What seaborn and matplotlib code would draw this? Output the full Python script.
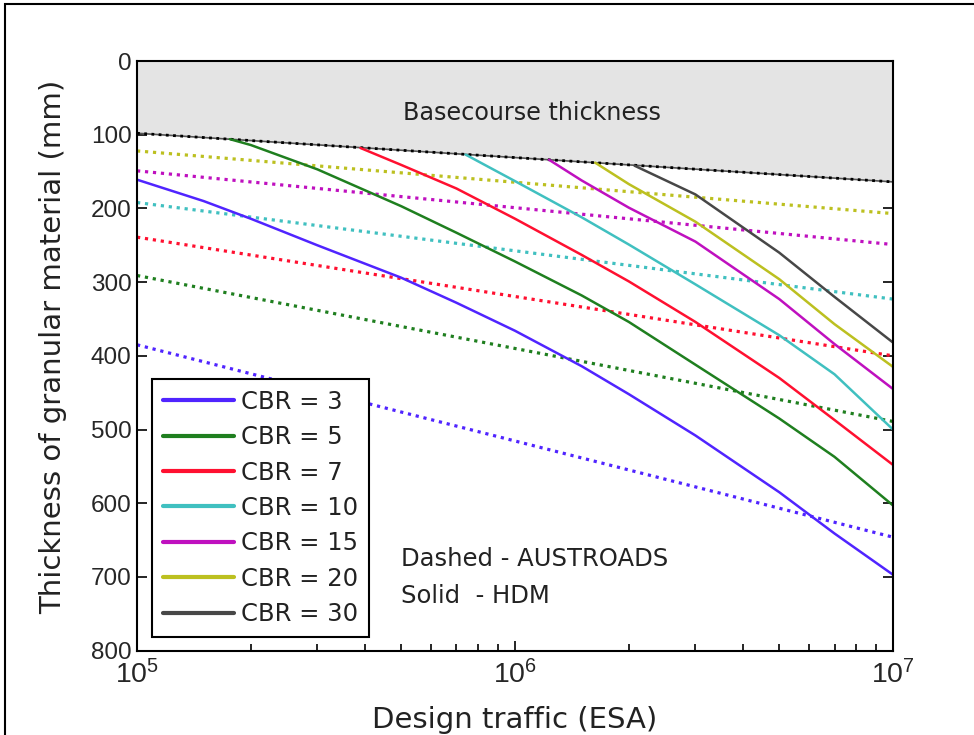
import numpy as np
import pandas as pd
import matplotlib
matplotlib.use("Agg")
import matplotlib.pyplot as plt
import matplotlib.patches as mpatches
from matplotlib.lines import Line2D
from matplotlib.ticker import LogLocator, FixedLocator, NullFormatter
import seaborn as sns

# ---------------- data ----------------
cbr_labels = ["CBR = 3", "CBR = 5", "CBR = 7", "CBR = 10", "CBR = 15", "CBR = 20", "CBR = 30"]
colors = ["#5024FF", "#1F7F1F", "#FF1030", "#40C0C0", "#BF10BF", "#BCC020", "#474747"]

# HDM (solid) curves: design traffic (ESA) and thickness (mm)
hdm_x_3 = [1e5, 1.5e5, 2e5, 3e5, 5e5, 7e5, 1e6, 1.5e6, 2e6, 3e6, 5e6, 7e6, 1e7]
hdm_y_3 = [161, 190, 214, 250, 294, 328, 366, 414, 452, 508, 585, 641, 697]
hdm_x_5 = [1.76e5, 2e5, 3e5, 5e5, 7e5, 1e6, 1.5e6, 2e6, 3e6, 5e6, 7e6, 1e7]
hdm_y_5 = [106, 114, 147, 197, 233, 272, 318, 354, 412, 485, 537, 603]
hdm_x_7 = [3.9e5, 5e5, 7e5, 1e6, 1.5e6, 2e6, 3e6, 5e6, 7e6, 1e7]
hdm_y_7 = [118, 141, 173, 214, 263, 299, 354, 430, 487, 548]
hdm_x_10 = [7.4e5, 1e6, 1.5e6, 2e6, 3e6, 5e6, 7e6, 1e7]
hdm_y_10 = [127, 163, 212, 249, 303, 372, 425, 500]
hdm_x_15 = [1.23e6, 1.5e6, 2e6, 3e6, 5e6, 7e6, 1e7]
hdm_y_15 = [134, 162, 199, 245, 323, 384, 445]
hdm_x_20 = [1.63e6, 2e6, 3e6, 5e6, 7e6, 1e7]
hdm_y_20 = [138, 167, 218, 296, 357, 415]
hdm_x_30 = [2.07e6, 3e6, 5e6, 7e6, 1e7]
hdm_y_30 = [142, 181, 260, 320, 382]

# AUSTROADS (dotted) lines
aus_x = [1e5, 1e7]
aus_y_3 = [385, 646]
aus_y_5 = [291, 489]
aus_y_7 = [239, 400]
aus_y_10 = [192, 323]
aus_y_15 = [149, 249]
aus_y_20 = [122, 207]

# Basecourse thickness boundary
base_x = [1e5, 1e6, 1e7]
base_y = [98, 131, 164]

xticks = [1e5, 1e6, 1e7]
yticks = [0, 100, 200, 300, 400, 500, 600, 700, 800]

# ---------------- style ----------------
sns.set_theme(style="white")
plt.rcParams["font.family"] = ["DejaVu Sans"]
plt.rcParams["mathtext.fontset"] = "custom"
plt.rcParams["mathtext.rm"] = "Liberation Sans"
plt.rcParams["mathtext.it"] = "Liberation Sans"

fig = plt.figure(figsize=(9.74, 7.35), dpi=100)
fig.patch.set_facecolor("white")
ax = fig.add_axes([0.1407, 0.1147, 0.7762, 0.8023])
ax.set_facecolor("white")

# basecourse shaded region
ax.fill_between(np.array(base_x), 0, base_y, color="#E4E4E4", zorder=1, lw=0)
sns.lineplot(x=base_x, y=base_y, ax=ax, color="#555555", lw=1.2, zorder=3,
             estimator=None, sort=False, legend=False)
sns.lineplot(x=base_x, y=base_y, ax=ax, color="black", lw=2.0, zorder=3,
             linestyle=(0, (1, 1.6)), estimator=None, sort=False, legend=False)

aus_series = [aus_y_3, aus_y_5, aus_y_7, aus_y_10, aus_y_15, aus_y_20]
for ys, c in zip(aus_series, colors):
    sns.lineplot(x=aus_x, y=ys, ax=ax, color=c, lw=2.3, linestyle=(0, (1, 1.5)),
                 estimator=None, sort=False, legend=False, zorder=2)

hdm_series = [(hdm_x_3, hdm_y_3), (hdm_x_5, hdm_y_5), (hdm_x_7, hdm_y_7),
              (hdm_x_10, hdm_y_10), (hdm_x_15, hdm_y_15), (hdm_x_20, hdm_y_20),
              (hdm_x_30, hdm_y_30)]
for (xs, ys), c in zip(hdm_series, colors):
    sns.lineplot(x=xs, y=ys, ax=ax, color=c, lw=1.8, estimator=None, sort=False,
                 legend=False, zorder=4)

ax.set_xscale("log")
ax.set_xlim(1e5, 1e7)
ax.set_ylim(800, 0)
ax.xaxis.set_major_locator(FixedLocator(xticks))
ax.xaxis.set_minor_locator(LogLocator(base=10, subs=np.arange(2, 10)))
ax.xaxis.set_minor_formatter(NullFormatter())
ax.set_xticks(xticks)
ax.set_xticklabels([r"$10^{5}$", r"$10^{6}$", r"$10^{7}$"])
ax.set_yticks(yticks)
ax.set_yticklabels([str(v) for v in yticks])

for lab in ax.get_yticklabels():
    lab.set_fontfamily("Liberation Sans")
    lab.set_fontsize(17.5)
for lab in ax.get_xticklabels():
    lab.set_fontsize(20.5)

ax.tick_params(which="both", direction="in", top=True, right=True, bottom=True, left=True,
               color="black", width=1.2)
ax.tick_params(which="major", length=7, pad=4)
ax.tick_params(which="minor", length=5)
ax.tick_params(axis="x", which="major", pad=7)
for s in ax.spines.values():
    s.set_color("black")
    s.set_linewidth(1.5)
    s.set_zorder(6)

ax.set_xlabel("Design traffic (ESA)", fontsize=21, color="#222222")
ax.set_ylabel("Thickness of granular material (mm)", fontsize=21, color="#222222")
ax.xaxis.set_label_coords(0.5, -0.093)
ax.yaxis.set_label_coords(-0.092, 0.515)

ax.text(1.11e6, 71, "Basecourse thickness", fontsize=17.2, ha="center", va="center",
        color="#222222", zorder=5)
ax.text(0.349, 0.1555, "Dashed - AUSTROADS", transform=ax.transAxes, fontsize=17.5,
        ha="left", va="center", color="#222222")
ax.text(0.349, 0.0928, "Solid  - HDM", transform=ax.transAxes, fontsize=17.5,
        ha="left", va="center", color="#222222")

handles = [Line2D([0], [0], color=c, lw=3) for c in colors]
leg = ax.legend(handles, cbr_labels, loc="lower left", bbox_to_anchor=(0.02, 0.023),
                borderaxespad=0, fontsize=17.5, frameon=True, fancybox=False,
                handlelength=2.9, handletextpad=0.3, labelspacing=0.47,
                borderpad=0.45, framealpha=1)
leg.get_frame().set_edgecolor("black")
leg.get_frame().set_linewidth(1.5)
leg.set_zorder(7)
for t in leg.get_texts():
    t.set_color("#222222")

# outer figure frame (top and left visible)
frame = mpatches.Rectangle((5 / 974, -0.05), 1.1, 1.05 - 4 / 735, transform=fig.transFigure,
                           fill=False, edgecolor="black", lw=1.5, clip_on=False)
fig.add_artist(frame)

fig.savefig("out.png", dpi=100)
